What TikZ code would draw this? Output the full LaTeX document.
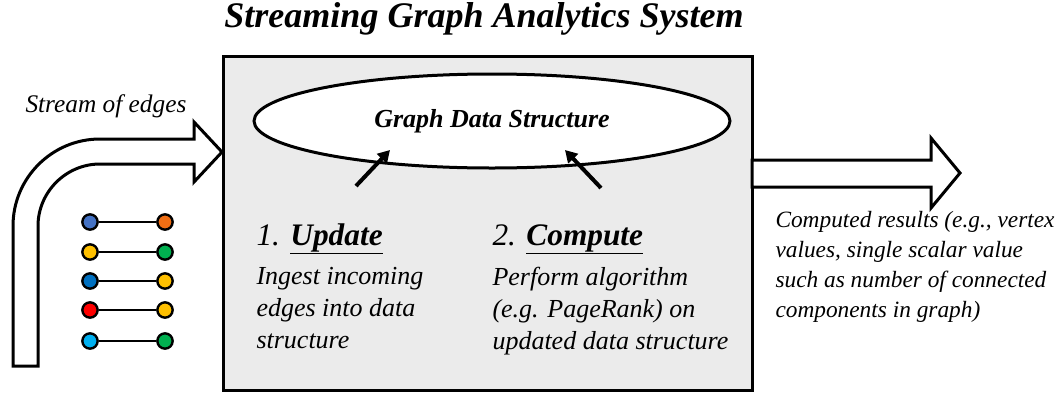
\documentclass[tikz,border=0pt]{standalone}
\usepackage{fontspec}
\setmainfont{Liberation Serif}
\usepackage{tikz}
\usetikzlibrary{arrows.meta,shapes.geometric}
\tikzset{every picture/.style={line width=0.75pt}}
\definecolor{boxgray}{RGB}{235,235,235}
\definecolor{dotblue}{RGB}{68,114,196}
\definecolor{dotorange}{RGB}{240,110,20}
\definecolor{dotgold}{RGB}{255,192,0}
\definecolor{dotgreen}{RGB}{0,176,80}
\definecolor{dotdeep}{RGB}{0,112,192}
\definecolor{dotred}{RGB}{255,0,0}
\definecolor{dotsky}{RGB}{0,176,240}
\tikzset{
  sysbox/.style={draw, line width=2.25pt, fill=boxgray, inner sep=0pt},
  gdsshape/.style={ellipse, draw, line width=2.25pt, fill=white, inner sep=0pt},
  blockarrow/.style={draw, line width=2.25pt, fill=white},
  vtx/.style={circle, draw, line width=1.8pt, minimum size=11.5pt, inner sep=0pt},
  edgeline/.style={line width=1.6pt},
  pointer/.style={line width=3pt, -{Triangle[length=9pt,width=10pt]}},
  bodytext/.style={inner sep=0pt, align=left, font=\itshape\fontsize{19.5}{24}\selectfont},
}

\begin{document}
\begin{tikzpicture}[x=0.75pt,y=0.75pt,yscale=-1,xscale=1]
\useasboundingbox (0,0) rectangle (1063,393);

% title
\node [anchor=base, inner sep=0pt, font=\bfseries\itshape\fontsize{27}{32}\selectfont] (title) at (484,27) {Streaming Graph Analytics System};

% system box and data structure
\node [sysbox, minimum width=396.75pt, minimum height=250.5pt] (sys) at (487.5,223) {};
\node [gdsshape, minimum width=357pt, minimum height=70.5pt, font=\bfseries\itshape\fontsize{19.5}{24}\selectfont] (gds) at (492,121) {Graph Data Structure};

% incoming stream
\draw [blockarrow] (13,366) -- (13,226) .. controls (13,178) and (52,139) .. (100,139) -- (194,139) -- (194,122) -- (222,152) -- (194,182) -- (194,164) -- (100,164) .. controls (66,164) and (38,192) .. (38,226) -- (38,366) -- cycle ;
\node [anchor=base west, inner sep=0pt, font=\itshape\fontsize{19}{23}\selectfont] (streamlbl) at (25,112) {Stream of edges};

% edges
\foreach \y/\ca/\cb [count=\i] in {222/dotblue/dotorange, 252/dotgold/dotgreen, 281/dotdeep/dotgold, 310/dotred/dotgold, 341/dotsky/dotgreen} {
  \node [vtx, fill=\ca] (src\i) at (90,\y) {};
  \node [vtx, fill=\cb] (dst\i) at (165,\y) {};
  \draw [edgeline] (src\i) -- (dst\i);
}

% outgoing results
\draw [blockarrow] (752,160) -- (931,160) -- (931,138) -- (960,173) -- (931,208) -- (931,187) -- (752,187) -- cycle ;
\node [anchor=north west, inner sep=0pt, align=left, font=\itshape\fontsize{17.5}{22.5}\selectfont] (results) at (775,211) {Computed results (e.g., vertex\\values, single scalar value\\such as number of connected\\components in graph)};

% update and compute
\node [anchor=base west, inner sep=0pt, font=\itshape\fontsize{23.5}{28}\selectfont] (updhead) at (256,245) {1. \underline{\textbf{Update}}};
\node [bodytext, anchor=north west] (updtext) at (256,267) {Ingest incoming\\edges into data\\structure};
\node [anchor=base west, inner sep=0pt, font=\itshape\fontsize{23.5}{28}\selectfont] (comphead) at (492,245) {2. \underline{\textbf{Compute}}};
\node [bodytext, anchor=north west] (comptext) at (492,267) {Perform algorithm\\(e.g. PageRank) on\\updated data structure};

% pointers into the data structure
\coordinate (updtail) at (356,186);
\coordinate (updtip) at (390,150);
\coordinate (comptail) at (601,188);
\coordinate (comptip) at (565,150);
\draw [pointer] (updtail) -- (updtip);
\draw [pointer] (comptail) -- (comptip);
\end{tikzpicture}
\end{document}
